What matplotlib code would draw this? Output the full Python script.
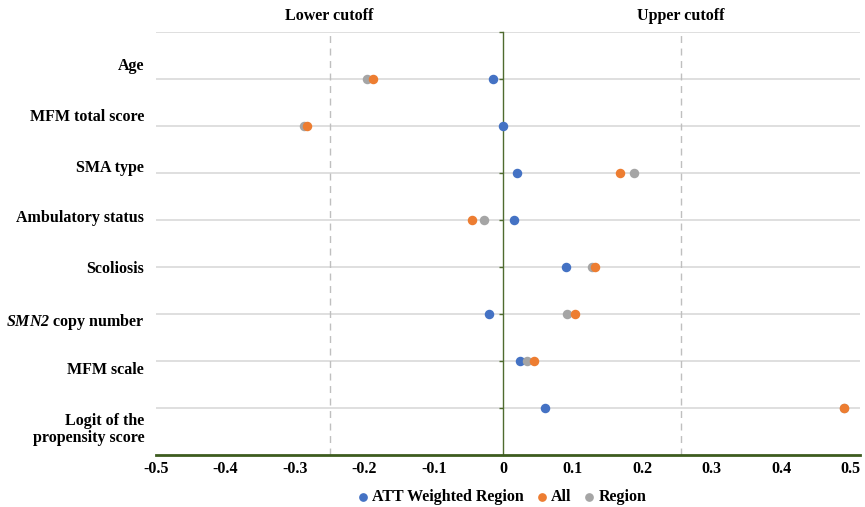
import numpy as np
import matplotlib.pyplot as plt

categories = ["Age", "MFM total score", "SMA type", "Ambulatory status", "Scoliosis",
              "$\\mathrm{SMN2}$ copy number", "MFM scale", "Logit of the\npropensity score"]
att_weighted = [-0.015, 0.0, 0.019, 0.015, 0.090, -0.021, 0.024, 0.060]
all_values = [-0.188, -0.283, 0.168, -0.045, 0.132, 0.103, 0.044, 0.490]
region_values = [-0.196, -0.287, 0.188, -0.028, 0.127, 0.091, 0.034, 0.490]
lower_cutoff = -0.25
upper_cutoff = 0.255
x_ticks = [-0.5, -0.4, -0.3, -0.2, -0.1, 0, 0.1, 0.2, 0.3, 0.4, 0.5]

plt.rcParams['font.family'] = ['Liberation Serif', 'DejaVu Serif']
plt.rcParams['font.weight'] = 'bold'
# only the gene name uses mathtext, set it to bold italic
plt.rcParams['mathtext.fontset'] = 'custom'
plt.rcParams['mathtext.rm'] = 'Liberation Serif:italic:bold'
plt.rcParams['mathtext.it'] = 'Liberation Serif:italic:bold'

fig = plt.figure(figsize=(8.65, 5.07), dpi=100)
ax = fig.add_axes([0.1803, 0.1026, 0.8137, 0.8343])

y = np.arange(1, len(categories) + 1)

# gridlines at each category row and the top
for g in range(0, len(categories) + 1):
    ax.axhline(g, color='#d9d9d9', lw=1.2, zorder=0)

ax.axvline(lower_cutoff, color='#bfbfbf', lw=1, ls=(0, (5, 4)), zorder=1)
ax.axvline(upper_cutoff, color='#bfbfbf', lw=1, ls=(0, (5, 4)), zorder=1)

ax.scatter(att_weighted, y, s=34, color='#4472C4', zorder=3, label='ATT Weighted Region')
ax.scatter(region_values, y, s=34, color='#A5A5A5', zorder=4, label='Region')
ax.scatter(all_values, y, s=34, color='#ED7D31', zorder=5, label='All')

ax.set_xlim(-0.5, 0.513)
ax.set_ylim(len(categories) + 1, 0)

for s in ['top', 'right']:
    ax.spines[s].set_visible(False)
ax.spines['left'].set_position(('data', 0))
ax.spines['left'].set_color('#4f6b2f')
ax.spines['left'].set_linewidth(1)
ax.spines['bottom'].set_color('#3d5c1f')
ax.spines['bottom'].set_linewidth(2)

ax.set_yticks(np.arange(0, len(categories) + 1))
ax.set_yticklabels([])
ax.tick_params(axis='y', length=3, width=1, color='#4f6b2f', direction='out')
ax.set_xticks(x_ticks)
ax.set_xticklabels([('%g' % t) for t in x_ticks], fontsize=11.5, fontweight='bold')
ax.tick_params(axis='x', length=0, pad=4)

# category labels, top-aligned
label_pos = np.linspace(0.56, 8.11, len(categories))
for lab, py in zip(categories, label_pos):
    ax.text(-0.517, py, lab, ha='right', va='top', fontsize=11.5, fontweight='bold',
            linespacing=1.1)

ax.text(lower_cutoff, -0.33, 'Lower cutoff', ha='center', va='center', fontsize=11.5, fontweight='bold')
ax.text(upper_cutoff, -0.33, 'Upper cutoff', ha='center', va='center', fontsize=11.5, fontweight='bold')

handles, labels = ax.get_legend_handles_labels()
order = [0, 2, 1]
ax.legend([handles[i] for i in order], [labels[i] for i in order], loc='center',
          bbox_to_anchor=(0.49, -0.1), ncol=3, frameon=False, fontsize=11.5,
          handlelength=1.0, handletextpad=0.1, columnspacing=0.6,
          markerscale=0.9, borderpad=0)

fig.savefig('out.png', dpi=100)
